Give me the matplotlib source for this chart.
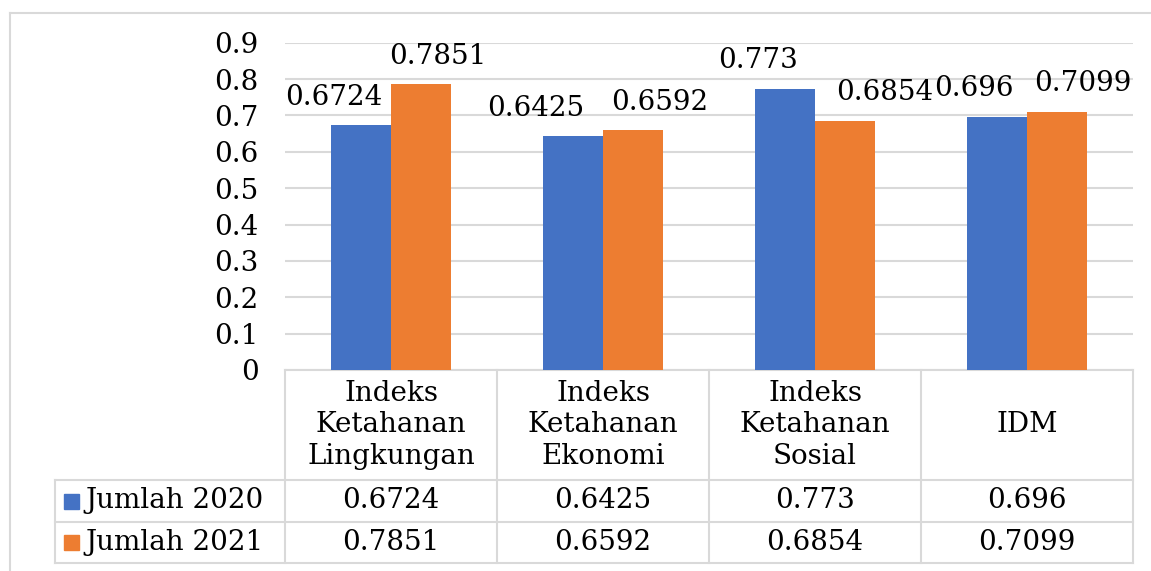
import matplotlib.pyplot as plt
import matplotlib.transforms as mtransforms
from matplotlib.lines import Line2D
from matplotlib.patches import Rectangle
import numpy as np

plt.rcParams.update({
    'font.family': 'DejaVu Serif',
    'font.size': 20,
})

CATEGORIES = [
    'Indeks\nKetahanan\nLingkungan',
    'Indeks\nKetahanan\nEkonomi',
    'Indeks\nKetahanan\nSosial',
    'IDM',
]
SERIES = ['Jumlah 2020', 'Jumlah 2021']
VAL_2020 = [0.6724, 0.6425, 0.773, 0.696]
VAL_2021 = [0.7851, 0.6592, 0.6854, 0.7099]
YTICKS = [0, 0.1, 0.2, 0.3, 0.4, 0.5, 0.6, 0.7, 0.8, 0.9]
YTICK_LABELS = ['0', '0.1', '0.2', '0.3', '0.4', '0.5', '0.6', '0.7', '0.8', '0.9']

COLORS = ['#4472C4', '#ED7D31']
GRID = '#D9D9D9'

# label nudges (pixels) mimicking Excel's overlap avoidance
LABEL_DX = [[-27, -37, -27, -23], [17, 26, 39, 26]]
LABEL_DY = 28

W, H = 1151, 571


def fy(py):
    """pixel row (from top) -> figure fraction"""
    return 1 - py / H


def fx(px):
    return px / W


def main():
    fig = plt.figure(figsize=(W / 100, H / 100), dpi=100)

    # plot area
    ax = fig.add_axes([fx(285), fy(370), fx(1133) - fx(285), fy(42.7) - fy(370)])
    x = np.arange(len(CATEGORIES))
    bw = 0.285
    for i, (vals, col) in enumerate(zip([VAL_2020, VAL_2021], COLORS)):
        xs = x + (i - 0.5) * bw
        ax.bar(xs, vals, width=bw, color=col, zorder=3)
        for j, (xx, v) in enumerate(zip(xs, vals)):
            ax.annotate(f'{v}', (xx, v), xytext=(LABEL_DX[i][j], LABEL_DY),
                        textcoords='offset pixels', ha='center', va='center',
                        zorder=4)

    ax.set_xlim(-0.5, len(CATEGORIES) - 0.5)
    ax.set_ylim(0, 0.9)
    ax.set_yticks(YTICKS)
    ax.set_yticklabels(YTICK_LABELS)
    ax.set_xticks([])
    ax.tick_params(axis='y', length=0, pad=19)
    ax.yaxis.grid(True, color=GRID, lw=1.5, zorder=0)
    for s in ['top', 'right', 'left']:
        ax.spines[s].set_visible(False)
    ax.spines['bottom'].set_color(GRID)
    ax.spines['bottom'].set_linewidth(1.5)

    # data table below the axis
    tr = mtransforms.blended_transform_factory(ax.transData, fig.transFigure)
    line_kw = dict(color=GRID, lw=1.5, clip_on=False)
    n = len(CATEGORIES)
    # vertical column boundaries
    for k in range(n + 1):
        fig.add_artist(Line2D([k - 0.5, k - 0.5], [fy(370), fy(563)],
                              transform=tr, **line_kw))
    # horizontal row lines
    for py in [480, 522, 563]:
        fig.add_artist(Line2D([fx(55), fx(1133)], [fy(py), fy(py)], **line_kw))
    fig.add_artist(Line2D([fx(55), fx(55)], [fy(480), fy(563)], **line_kw))

    # header
    for j, cat in enumerate(CATEGORIES):
        fig.text(j, fy(425), cat, transform=tr, ha='center', va='center',
                 multialignment='center', linespacing=1.2)
    # rows
    row_y = [501, 542.5]
    for r, (name, vals, col) in enumerate(zip(SERIES, [VAL_2020, VAL_2021], COLORS)):
        fig.add_artist(Rectangle((fx(64), fy(row_y[r] + 7.5)), fx(15), fy(0) - fy(15),
                                 color=col, transform=fig.transFigure))
        fig.text(fx(85), fy(row_y[r]), name, ha='left', va='center')
        for j, v in enumerate(vals):
            fig.text(j, fy(row_y[r]), f'{v}', transform=tr, ha='center', va='center')

    # outer chart border (cropped)
    fig.add_artist(Line2D([fx(10), 1], [fy(13), fy(13)], **line_kw))
    fig.add_artist(Line2D([fx(10), fx(10)], [fy(13), 0], **line_kw))

    fig.savefig('out.png', dpi=100)


if __name__ == '__main__':
    main()
